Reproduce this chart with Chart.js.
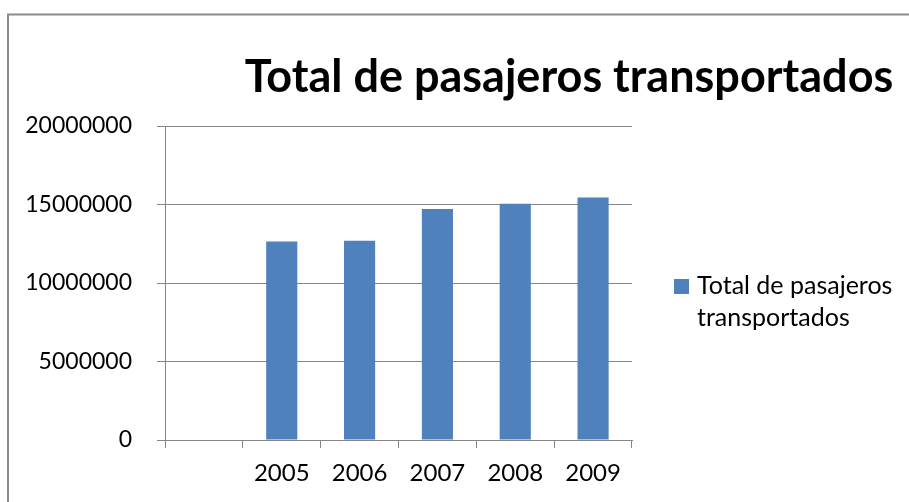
<!DOCTYPE html>
<html>
<head>
<meta charset="utf-8">
<script src="https://cdn.jsdelivr.net/npm/chart.js@4/dist/chart.umd.min.js"></script>
<style>
  html, body { margin: 0; padding: 0; background: #ffffff; }
  #wrap { position: relative; width: 909px; height: 502px; overflow: hidden; }
  canvas { display: block; }
</style>
</head>
<body>
<div id="wrap"><canvas id="c" width="909" height="502"></canvas></div>
<script>
// ---- data ----
const chartTitle = 'Total de pasajeros transportados';
const seriesName = ['Total de pasajeros', 'transportados'];
const categories = ['', '2005', '2006', '2007', '2008', '2009'];
const pasajeros = [null, 12650000, 12690000, 14710000, 15050000, 15450000];
const yTickValues = [0, 5000000, 10000000, 15000000, 20000000];

const FONT = 'Lato, "Open Sans", sans-serif';
const BAR_COLOR = '#4f81bd';
const AXIS_COLOR = '#868686';

const decorPlugin = {
  id: 'decor',
  afterDraw(chart) {
    const ctx = chart.ctx;
    ctx.save();
    // outer chart border
    ctx.strokeStyle = '#8c8c8c';
    ctx.lineWidth = 2;
    ctx.strokeRect(8, 14.5, 1000, 600);
    // title
    ctx.fillStyle = '#000000';
    ctx.font = 'bold 45px ' + FONT;
    ctx.textAlign = 'center';
    ctx.textBaseline = 'alphabetic';
    ctx.fillText(chartTitle, 569, 92);
    // legend
    ctx.fillStyle = BAR_COLOR;
    ctx.fillRect(674, 279, 15, 15);
    ctx.fillStyle = '#000000';
    ctx.font = '25px ' + FONT;
    ctx.textAlign = 'left';
    ctx.fillText(seriesName[0], 697, 294);
    ctx.fillText(seriesName[1], 697, 326);
    ctx.restore();
  }
};

new Chart(document.getElementById('c'), {
  type: 'bar',
  data: {
    labels: categories,
    datasets: [{
      label: seriesName.join(' '),
      data: pasajeros,
      backgroundColor: BAR_COLOR,
      borderWidth: 0,
      categoryPercentage: 1.0,
      barPercentage: 0.4
    }]
  },
  options: {
    responsive: false,
    animation: false,
    devicePixelRatio: 1,
    layout: { padding: { left: 0, top: 126, right: 277, bottom: 0 } },
    plugins: {
      legend: { display: false },
      title: { display: false },
      tooltip: { enabled: false }
    },
    scales: {
      x: {
        offset: true,
        afterFit(scale) { scale.height = 62; },
        grid: {
          offset: true,
          drawOnChartArea: false,
          drawTicks: true,
          tickLength: 8,
          color: AXIS_COLOR,
          lineWidth: 1
        },
        border: { color: AXIS_COLOR, width: 1 },
        ticks: {
          color: '#000000',
          font: { family: FONT, size: 24 },
          padding: 11,
          maxRotation: 0,
          autoSkip: false
        }
      },
      y: {
        min: 0,
        max: 20000000,
        afterFit(scale) { scale.width = 165; },
        afterBuildTicks(scale) { scale.ticks = yTickValues.map(v => ({ value: v })); },
        grid: {
          drawTicks: true,
          tickLength: 8,
          color: AXIS_COLOR,
          lineWidth: 1
        },
        border: { color: AXIS_COLOR, width: 1 },
        ticks: {
          color: '#000000',
          font: { family: FONT, size: 23 },
          padding: 25,
          callback: (v) => String(v)
        }
      }
    }
  },
  plugins: [decorPlugin]
});
</script>
</body>
</html>
